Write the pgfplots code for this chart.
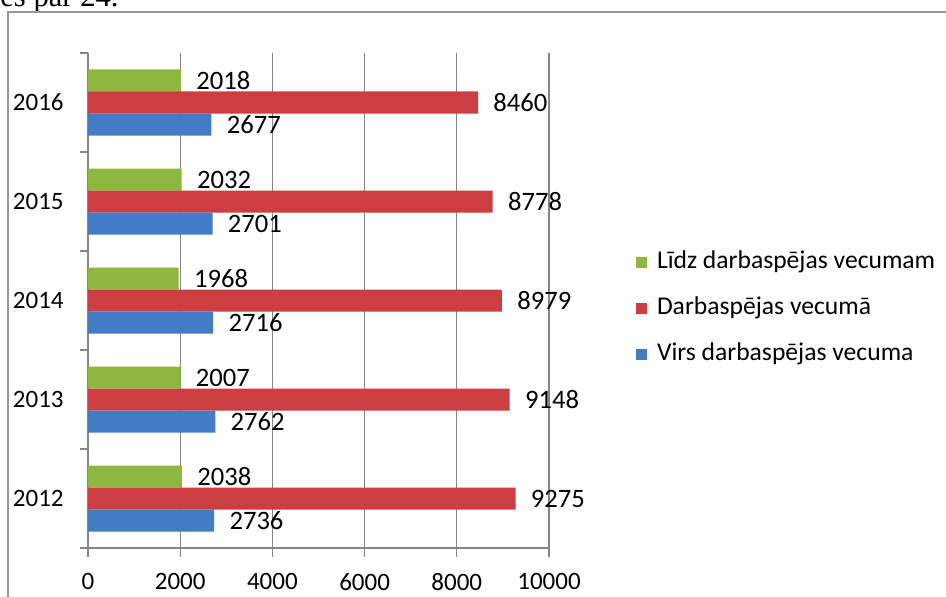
\documentclass[border=0pt]{standalone}
\usepackage{pgfplots}
\pgfplotsset{compat=1.18}
\usepackage{fontspec}
\setmainfont{Carlito}
\newfontfamily\timesfont{Liberation Serif}
\definecolor{gbar}{RGB}{141,183,62}
\definecolor{rbar}{RGB}{204,62,66}
\definecolor{bbar}{RGB}{66,124,196}
\definecolor{axgray}{RGB}{134,134,134}
\definecolor{frgray}{RGB}{150,150,150}
\begin{document}
\begin{tikzpicture}
\useasboundingbox (0,0) rectangle (473pt,298pt);
\clip (0,0) rectangle (473pt,298pt);
\fill[white] (0,0) rectangle (473pt,298pt);
\node[anchor=base west, inner sep=0pt, font=\timesfont\fontsize{15.3}{18}\selectfont] at (0pt,294.7pt) {es par 24.};
\draw[frgray, line width=1pt] (4pt,-10pt) -- (4pt,292pt) -- (480pt,292pt);
\begin{axis}[
  at={(44pt,24pt)}, anchor=south west,
  scale only axis, width=230.5pt, height=247.5pt,
  xbar, bar width=11pt,
  xmin=0, xmax=10000, ymin=2011.5, ymax=2016.5,
  xtick={0,2000,4000,6000,8000,10000},
  ytick={2012,2013,2014,2015,2016},
  minor ytick={2011.5,2012.5,2013.5,2014.5,2015.5,2016.5},
  scaled x ticks=false,
  /pgf/number format/1000 sep={},
  /pgf/number format/assume math mode=true,
  axis lines*=left,
  axis line style={-, axgray, line width=0.6pt},
  xmajorgrids,
  grid style={axgray, line width=0.6pt},
  tick align=outside,
  major tick length=4.5pt,
  minor tick length=4pt,
  every major y tick/.append style={draw=none},
  every minor y tick/.append style={axgray, line width=0.6pt},
  every major x tick/.append style={axgray, line width=0.6pt},
  tick label style={font=\fontsize{12.5}{15}\selectfont},
  yticklabel style={anchor=east, inner sep=0pt, xshift=-7.5pt},
  xticklabel style={inner sep=0pt, yshift=-8pt},
  nodes near coords,
  point meta=explicit symbolic,
  nodes near coords style={anchor=west, inner sep=0pt, xshift=7.5pt, font=\fontsize{13.3}{16}\selectfont, text=black},
  legend cell align=left,
  legend image code/.code={\fill[#1] (0pt,-2.75pt) rectangle (5.5pt,2.75pt);},
  legend style={at={(axis description cs:1.1887,0.602)}, anchor=north west,
    draw=none, fill=none, inner sep=0pt, outer sep=0pt, row sep=11pt,
    font=\fontsize{12.8}{15}\selectfont,
    nodes={inner sep=0pt, text height=9pt, text depth=3pt, anchor=west},
    /tikz/every odd column/.append style={column sep=5pt}},
]
\addplot[fill=gbar, draw=none, bar shift=11pt] coordinates {
  (2038,2012) [2038]
  (2007,2013) [2007]
  (1968,2014) [1968]
  (2032,2015) [2032]
  (2018,2016) [2018]
};
\addplot[fill=rbar, draw=none, bar shift=0pt] coordinates {
  (9275,2012) [9275]
  (9148,2013) [9148]
  (8979,2014) [8979]
  (8778,2015) [8778]
  (8460,2016) [8460]
};
\addplot[fill=bbar, draw=none, bar shift=-11pt] coordinates {
  (2736,2012) [2736]
  (2762,2013) [2762]
  (2716,2014) [2716]
  (2701,2015) [2701]
  (2677,2016) [2677]
};
\legend{Līdz darbaspējas vecumam, Darbaspējas vecumā, Virs darbaspējas vecuma}
\end{axis}
\end{tikzpicture}
\end{document}
